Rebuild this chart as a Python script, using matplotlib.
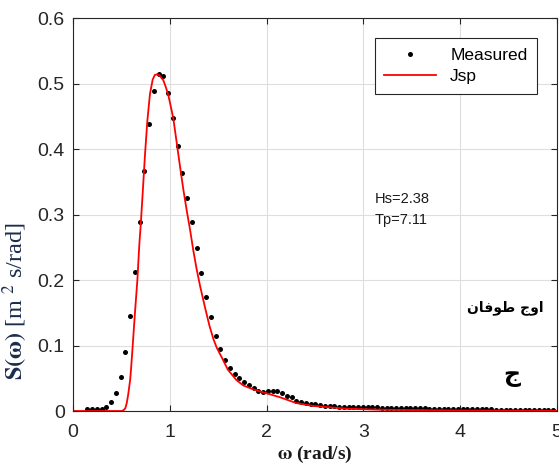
import numpy as np
import matplotlib
matplotlib.use("Agg")
import matplotlib.pyplot as plt

# measured spectrum (first point at 3*dw)
dw = 0.0491
k_first = 3
measured = [0.0026, 0.0026, 0.0031, 0.0036, 0.0066, 0.0133, 0.0281, 0.0526, 0.0908, 0.145,
            0.212, 0.289, 0.367, 0.438, 0.489, 0.514, 0.511, 0.486, 0.447, 0.405,
            0.363, 0.325, 0.288, 0.249, 0.211, 0.174, 0.143, 0.115, 0.095, 0.078,
            0.065, 0.057, 0.050, 0.044, 0.039, 0.035, 0.031, 0.029, 0.0306, 0.031,
            0.0306, 0.028, 0.0234, 0.021, 0.016, 0.0133, 0.0118, 0.0112, 0.0102, 0.0092,
            0.0082, 0.0077, 0.0071, 0.0066, 0.0066, 0.0061, 0.0060, 0.0058, 0.0057, 0.0056,
            0.0055, 0.0055, 0.0052, 0.0053, 0.0050, 0.0049, 0.0047, 0.0046, 0.0044, 0.0042,
            0.0040, 0.0039, 0.0037, 0.0036, 0.0034, 0.0033, 0.0032, 0.0030, 0.0029, 0.0028,
            0.0028, 0.0027, 0.0026, 0.0025, 0.0024, 0.0024, 0.0023, 0.0022, 0.0022, 0.0021,
            0.0021, 0.0020, 0.0020, 0.0019, 0.0019, 0.0018, 0.0018, 0.0018, 0.0017]
omega = dw * np.arange(k_first, k_first + len(measured))

# Jsp curve
jsp_w = [0, 0.50, 0.52, 0.54, 0.555, 0.57, 0.59, 0.60, 0.616, 0.64, 0.665, 0.685, 0.70, 0.72,
         0.744, 0.768, 0.795, 0.823, 0.845, 0.865, 0.89, 0.933, 0.96, 0.985, 1.01, 1.036,
         1.071, 1.105, 1.14, 1.175, 1.209, 1.243, 1.278, 1.314, 1.364, 1.41, 1.45, 1.484,
         1.55, 1.60, 1.69, 1.76, 1.862, 2.0, 2.138, 2.31, 2.48, 2.65, 2.83, 3.17, 3.6, 4.0,
         4.5, 5.0]
jsp_s = [0, 0, 0.001, 0.004, 0.012, 0.025, 0.047, 0.065, 0.098, 0.15, 0.20, 0.254, 0.285, 0.333,
         0.392, 0.443, 0.484, 0.506, 0.513, 0.514, 0.513, 0.505, 0.494, 0.482, 0.465, 0.447,
         0.410, 0.374, 0.338, 0.306, 0.277, 0.245, 0.216, 0.190, 0.158, 0.130, 0.110, 0.097,
         0.078, 0.063, 0.047, 0.039, 0.033, 0.027, 0.021, 0.012, 0.0077, 0.0057, 0.0035, 0.002,
         0.0012, 0.0008, 0.0005, 0.0003]

plt.rcParams['mathtext.fontset'] = 'stix'
plt.rcParams['font.family'] = ['Liberation Sans', 'DejaVu Sans']

fig = plt.figure(figsize=(5.59, 4.67), dpi=100)
ax = fig.add_axes([0.1306, 0.1199, 0.8658, 0.8415])

ax.plot(omega, measured, 'o', color='k', markersize=3.6, markeredgewidth=0, label='Measured')
ax.plot(jsp_w, jsp_s, color='#ff0000', linewidth=1.3, label='Jsp')

ax.set_xlim(0, 5)
ax.set_ylim(0, 0.6)
ax.set_xticks([0, 1, 2, 3, 4, 5])
ax.set_yticks([0, 0.1, 0.2, 0.3, 0.4, 0.5, 0.6])
ax.set_yticklabels(['0', '0.1', '0.2', '0.3', '0.4', '0.5', '0.6'])
ax.grid(True, color='#dedede', linewidth=0.8)
ax.set_axisbelow(True)
ax.tick_params(direction='in', length=4, width=0.8, colors='#262626', labelsize=14,
               top=True, right=True)
ax.tick_params(axis='x', pad=9)
ax.tick_params(axis='y', pad=6)
for s in ax.spines.values():
    s.set_color('#262626')
    s.set_linewidth(0.8)

ax.set_xlabel(r'$\mathbf{\omega}$ (rad/s)', fontsize=14, fontweight='bold',
              family='Liberation Serif', color='#1a1a1a')
ax.xaxis.set_label_coords(0.5, -0.083)
ax.set_ylabel(r'$\mathbf{S(\omega)}$ [m $^{2}$ s/rad]', fontsize=17.5, family='Liberation Serif',
              color='#1c2c4c')
ax.yaxis.set_label_coords(-0.088, 0.28)

leg = ax.legend(loc='upper right', bbox_to_anchor=(0.9587, 0.949), borderaxespad=0,
                fancybox=False, framealpha=1, edgecolor='#262626', fontsize=12.5,
                handlelength=3.0, markerscale=1.0, borderpad=0.55, labelspacing=0.35)
leg.get_frame().set_linewidth(0.8)

ax.text(3.12, 0.323, 'Hs=2.38', fontsize=10.5, va='center', color='#1a1a1a')
ax.text(3.12, 0.292, 'Tp=7.11', fontsize=10.5, va='center', color='#1a1a1a')

# "اوج طوفان" written with presentation forms so it joins without a shaper
ax.text(4.47, 0.158, '\uFEE5\uFE8E\uFED3\uFEEE\uFEC3 \uFE9D\uFEED\uFE8D', fontsize=10,
        fontweight='bold', family=['DejaVu Sans'], ha='center', va='center', color='k')
ax.text(4.53, 0.055, '\u062C', fontsize=17, fontweight='bold', family=['DejaVu Sans'],
        ha='center', va='center', color='k')

plt.savefig('out.png', dpi=100)
